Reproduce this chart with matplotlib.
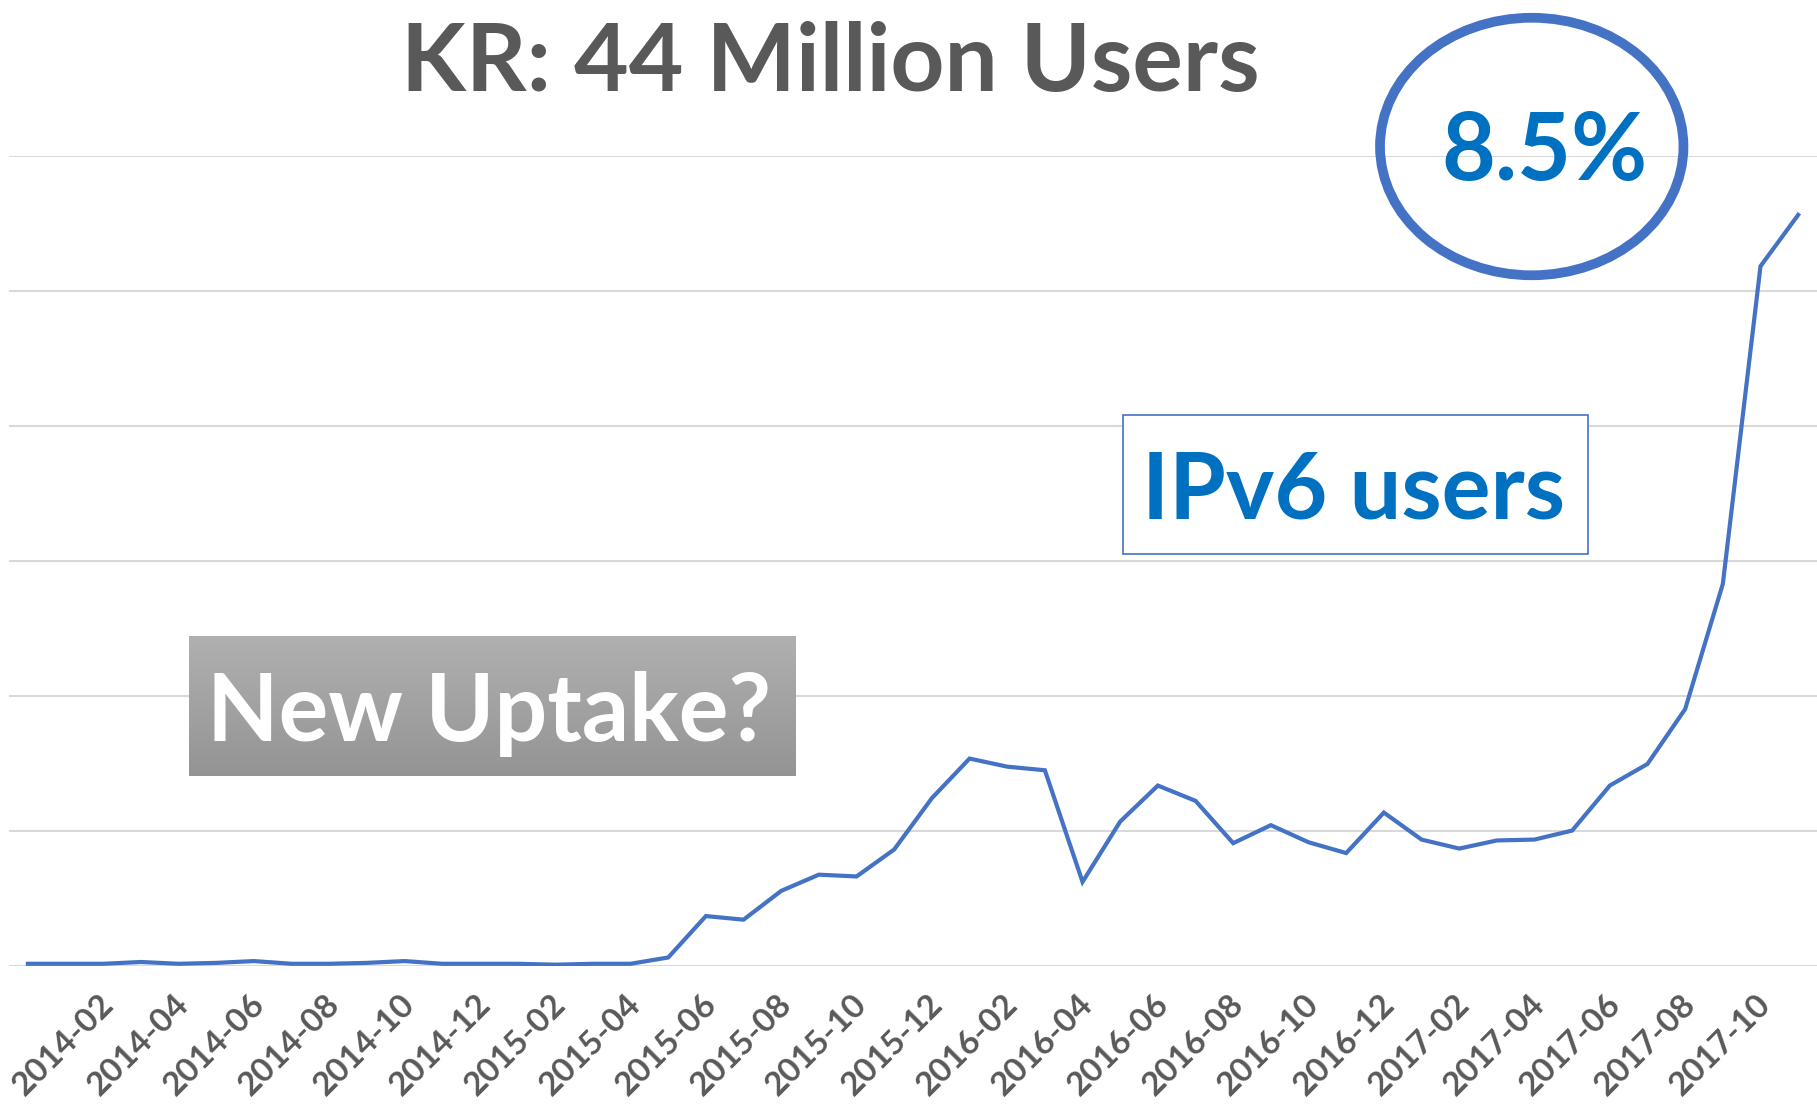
import numpy as np
import matplotlib
matplotlib.use("Agg")
import matplotlib.pyplot as plt
from matplotlib.patches import Ellipse, Rectangle
from matplotlib.transforms import ScaledTranslation

# Global parameters
FIGURE_SIZE = (18.17, 11.10)
DPI = 100
LINE_BLUE = "#4472C4"
TEXT_BLUE = "#0070C0"
TEXT_GREY = "#595959"
GRID_GREY = "#d9d9d9"
FONT = ["Lato", "DejaVu Sans"]

"""Data"""
# monthly categories, 2014-01 .. 2017-12
months = [f"{y}-{m:02d}" for y in range(2014, 2018) for m in range(1, 13)]

# IPv6 share (%)
ipv6_pct = [
    0.03, 0.03, 0.03, 0.05, 0.03, 0.04, 0.06, 0.03, 0.03, 0.04, 0.06, 0.03,
    0.03, 0.03, 0.02, 0.03, 0.03, 0.10, 0.56, 0.52, 0.84, 1.02, 1.00, 1.30,
    1.87, 2.31, 2.22, 2.18, 0.94, 1.61, 2.01, 1.84, 1.37, 1.57, 1.38, 1.26,
    1.71, 1.41, 1.31, 1.40, 1.41, 1.51, 2.01, 2.25, 2.86, 4.25, 7.78, 8.35,
]

y_ticks = [0, 1.5, 3.0, 4.5, 6.0, 7.5, 9.0]
# every second month is labelled; the last one (2017-12) falls off the canvas
tick_idx = list(range(1, len(months) - 2, 2))
tick_labels = [months[i] for i in tick_idx]

title_text = "KR: 44 Million Users"
peak_text = "8.5%"
series_text = "IPv6 users"
note_text = "New Uptake?"

"""Figure"""
fig = plt.figure(figsize=FIGURE_SIZE, dpi=DPI)
ax = fig.add_axes([0.005, 0.1293, 0.995, 0.7298])

x = np.arange(len(months))
ax.plot(x, ipv6_pct, color=LINE_BLUE, linewidth=3.0, solid_joinstyle="miter", zorder=3)

ax.set_xlim(-0.5, len(months) - 0.5)
ax.set_ylim(y_ticks[0], y_ticks[-1])
ax.set_yticks(y_ticks)
ax.set_yticklabels([])
ax.yaxis.grid(True, color=GRID_GREY, linewidth=1.5)
ax.tick_params(axis="y", length=0)
for s in ax.spines.values():
    s.set_visible(False)

# rotated category labels, shifted like the spreadsheet rendering
ax.set_xticks(tick_idx)
ax.set_xticklabels(tick_labels, rotation=45, ha="right", va="top",
                   rotation_mode="anchor", fontsize=24, fontweight="bold",
                   color=TEXT_GREY, family=FONT)
ax.tick_params(axis="x", length=0, pad=0)
shift = ScaledTranslation(0.33, -0.23, fig.dpi_scale_trans)
for lab in ax.get_xticklabels():
    lab.set_transform(lab.get_transform() + shift)

# title
fig.text(0.457, 0.918, title_text, ha="center", va="baseline", fontsize=68,
         fontweight="bold", color=TEXT_GREY, family=FONT)

# circled peak value
fig.patches.append(Ellipse((0.843, 0.868), 0.167, 0.232, transform=fig.transFigure,
                           fill=False, edgecolor=LINE_BLUE, linewidth=7))
fig.text(0.850, 0.838, peak_text, ha="center", va="baseline", fontsize=67,
         fontweight="bold", color=TEXT_BLUE, family=FONT)

# series label box
fig.patches.append(Rectangle((0.618, 0.501), 0.256, 0.125, transform=fig.transFigure,
                             facecolor="white", edgecolor=LINE_BLUE, linewidth=1.2))
fig.text(0.745, 0.533, series_text, ha="center", va="baseline", fontsize=66,
         fontweight="bold", color=TEXT_BLUE, family=FONT)

# grey gradient note box
gax = fig.add_axes([0.104, 0.301, 0.334, 0.126])
grad = np.linspace(0, 1, 256).reshape(-1, 1)
top_c = np.array([0.69, 0.69, 0.69])
bot_c = np.array([0.58, 0.58, 0.58])
img = top_c + (bot_c - top_c) * grad[:, :, None]
gax.imshow(img, aspect="auto", extent=(0, 1, 0, 1))
gax.set_axis_off()
fig.text(0.269, 0.332, note_text, ha="center", va="baseline", fontsize=67,
         fontweight="bold", color="white", family=FONT, zorder=5)

fig.savefig("out.png", dpi=DPI)
plt.close(fig)
